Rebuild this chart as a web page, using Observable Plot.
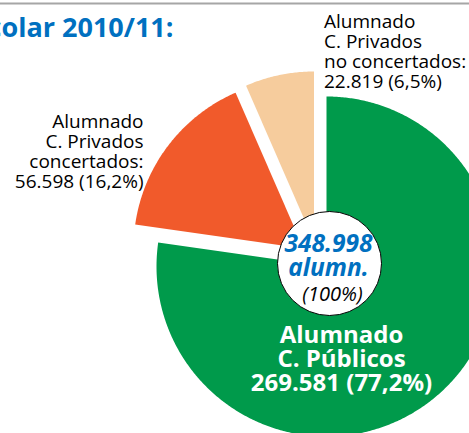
<!DOCTYPE html>
<html><head><meta charset="utf-8">
<script src="https://cdn.jsdelivr.net/npm/d3@7"></script>
<script src="https://cdn.jsdelivr.net/npm/@observablehq/plot@0.6"></script>
<style>
html,body{margin:0;padding:0;background:#fff;overflow:hidden}
#chart svg{display:block;overflow:hidden}
</style></head><body><div id="chart"></div>
<script>
// ---- data ----
const categories = ["Alumnado\nC. Públicos", "Alumnado\nC. Privados\nconcertados:", "Alumnado\nC. Privados\nno concertados:"];
const values = [269581, 56598, 22819];
const colors = ["#009A4B", "#F15A2B", "#F6CC9D"];
const centerUnit = "alumn.";
const titleText = "escolar 2010/11:";

// ---- layout ----
const W = 469, H = 433, R = 170, cx = 326, cy = 266;
const explodePx = [[0, 0], [-23, -18], [-12.5, -25]];
const FONT = "'Open Sans', Lato, sans-serif";

const es = d3.formatLocale({decimal: ",", thousands: ".", grouping: [3], currency: ["", "€"]});
const fmtInt = es.format(",d");
const fmtPct = es.format(".1f");
const total = d3.sum(values);

const arcs = d3.pie().sort(null).value(d => d)(values);
const points = [];
arcs.forEach((a, i) => {
  const ox = explodePx[i][0] / R, oy = explodePx[i][1] / R;
  const cat = categories[i];
  points.push({cat, x: ox, y: oy});
  const n = Math.max(2, Math.ceil((a.endAngle - a.startAngle) / (Math.PI / 360)));
  for (let k = 0; k <= n; k++) {
    const t = a.startAngle + (a.endAngle - a.startAngle) * k / n;
    points.push({cat, x: ox + Math.sin(t), y: oy - Math.cos(t)});
  }
});

const label = i => `${categories[i]}\n${fmtInt(values[i])} (${fmtPct(values[i] / total * 100)}%)`;

function frameText(text, px, py, o) {
  return Plot.text([text], Object.assign({text: d => d, frameAnchor: "top-left", dx: px, dy: py, lineAnchor: "bottom", fontFamily: FONT}, o));
}

const plot = Plot.plot({
  width: W, height: H,
  margin: 0, marginTop: 0, marginRight: 0, marginBottom: 0, marginLeft: 0,
  style: {background: "white", fontFamily: FONT},
  x: {type: "linear", domain: [-cx / R, (W - cx) / R], range: [0, W], axis: null},
  y: {type: "linear", domain: [-cy / R, (H - cy) / R], range: [0, H], axis: null},
  color: {domain: categories, range: colors},
  marks: [
    Plot.ruleY([-cy / R], {dy: 3, stroke: "#a6a6a6", strokeWidth: 2}),
    Plot.line(points, {x: "x", y: "y", z: "cat", fill: "cat", stroke: "none", curve: "linear"}),
    Plot.dot([{x: 0, y: 0}], {x: "x", y: "y", r: 52, dx: 3, dy: -3, fill: "white", stroke: "black", strokeWidth: 1}),
    // center texts
    frameText(fmtInt(total), cx + 2, cy - 15, {fontSize: 24.5, fontWeight: "bold", fontStyle: "italic", fill: "#0070C0", textAnchor: "middle"}),
    frameText(centerUnit, cx + 2, cy + 9, {fontSize: 24.5, fontWeight: "bold", fontStyle: "italic", fill: "#0070C0", textAnchor: "middle"}),
    frameText(`(${fmtInt(100)}%)`, cx + 6, cy + 34, {fontSize: 20, fontStyle: "italic", fill: "black", textAnchor: "middle"}),
    // slice labels
    frameText(label(0), 341, 390, {fontSize: 24, fontWeight: "bold", fill: "white", textAnchor: "middle", lineHeight: 1}),
    frameText(label(1), 143, 187.5, {fontSize: 19, fill: "black", textAnchor: "end", lineHeight: 20 / 19}),
    frameText(label(2), 323.5, 87.5, {fontSize: 19, fill: "black", textAnchor: "start", lineHeight: 20 / 19}),
    // title
    frameText(titleText, 173, 36, {fontSize: 27, fontWeight: "bold", fill: "#0070C0", textAnchor: "end"})
  ]
});
document.getElementById("chart").appendChild(plot);
</script></body></html>
